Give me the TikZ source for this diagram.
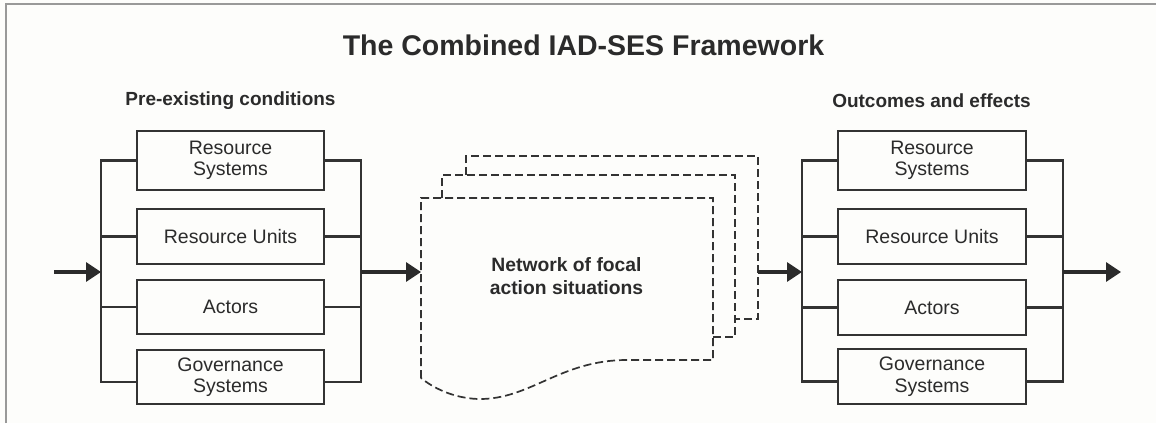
\documentclass[tikz,border=0pt]{standalone}
\usepackage{fontspec}
\setmainfont{Liberation Sans}
\usetikzlibrary{arrows.meta,calc}
\definecolor{bg}{HTML}{FDFDFB}
\definecolor{ink}{HTML}{2B2B2B}
\definecolor{linec}{HTML}{333333}
\tikzset{
  box/.style={draw=linec, line width=2.1pt, minimum width=187pt, inner sep=0pt, align=center,
              text=ink, font=\fontsize{19.5}{21.5}\selectfont},
  bus/.style={draw=linec, line width=2.1pt},
  flow/.style={draw=ink, line width=3.2pt, -{Triangle[length=15pt,width=19pt]}},
  dsh/.style={draw=linec, line width=1.7pt, dash pattern=on 8pt off 4pt},
  heading/.style={text=ink, font=\bfseries\fontsize{19}{22}\selectfont},
}
\begin{document}
\begin{tikzpicture}[x=1pt,y=-1pt]
\useasboundingbox[fill=bg] (0,0) rectangle (1156,423);
\draw[gray!80, line width=1.5pt] (6,423) -- (6,4) -- (1156,4);

\node[text=ink, font=\bfseries\fontsize{28.5}{32}\selectfont] (title) at (583.5,45) {The Combined IAD-SES Framework};

\node[heading] (pre) at (230.5,101) {Pre-existing conditions};
\node[heading] (out) at (931.5,101) {Outcomes and effects};

% left group
\node[box, minimum height=59pt] (L1) at (230.5,160.5) {Resource\\Systems};
\node[box, minimum height=55pt] (L2) at (230.5,236.5) {Resource Units};
\node[box, minimum height=54pt] (L3) at (230.5,307) {Actors};
\node[box, minimum height=54pt] (L4) at (230.5,377) {Governance\\Systems};

\coordinate (Llb) at (101,272);
\coordinate (Lrb) at (361,272);
\draw[bus] (L1.west) -| (Llb |- L1.west) |- ([yshift=-5pt]L4.west);
\draw[bus] (L2.west) -- (L2.west -| Llb);
\draw[bus] (L3.west) -- (L3.west -| Llb);
\draw[bus] (L1.east) -| (Lrb |- L1.east) |- ([yshift=-5pt]L4.east);
\draw[bus] (L2.east) -- (L2.east -| Lrb);
\draw[bus] (L3.east) -- (L3.east -| Lrb);

% right group
\node[box, minimum width=188pt, minimum height=59pt] (R1) at (932,160.5) {Resource\\Systems};
\node[box, minimum width=188pt, minimum height=55pt] (R2) at (932,236.5) {Resource Units};
\node[box, minimum width=188pt, minimum height=55pt] (R3) at (932,307.5) {Actors};
\node[box, minimum width=188pt, minimum height=55pt] (R4) at (932,376.5) {Governance\\Systems};

\coordinate (Rlb) at (802,272);
\coordinate (Rrb) at (1063,272);
\draw[bus] (R1.west) -| (Rlb |- R1.west) |- ([yshift=-5pt]R4.west);
\draw[bus] (R2.west) -- (R2.west -| Rlb);
\draw[bus] (R3.west) -- (R3.west -| Rlb);
\draw[bus] (R1.east) -| (Rrb |- R1.east) |- ([yshift=-5pt]R4.east);
\draw[bus] (R2.east) -- (R2.east -| Rrb);
\draw[bus] (R3.east) -- (R3.east -| Rrb);

% stacked action situations
\draw[dsh] (466,175) -- (466,156) -- (758,156) -- (758,319) -- (735,319);
\draw[dsh] (442,198) -- (442,175) -- (735,175) -- (735,337) -- (713,337);
\draw[dsh] (421,378) -- (421,198) -- (713,198) -- (713,360) -- (627,360)
  .. controls (560,360) and (530,400) .. (478,399)
  .. controls (452,398) and (432,387) .. (421,378);
\node[text=ink, font=\bfseries\fontsize{19.3}{22.3}\selectfont, align=center] (net) at (566.5,276)
  {Network of focal\\action situations};
\coordinate (netL) at (421,272);
\coordinate (netR) at (758,272);

% flow arrows
\coordinate (start) at (54,272);
\coordinate (finish) at (1121,272);
\draw[flow] (start) -- (Llb);
\draw[flow] (Lrb) -- (netL);
\draw[flow] (netR) -- (Rlb);
\draw[flow] (Rrb) -- (finish);
\end{tikzpicture}
\end{document}
